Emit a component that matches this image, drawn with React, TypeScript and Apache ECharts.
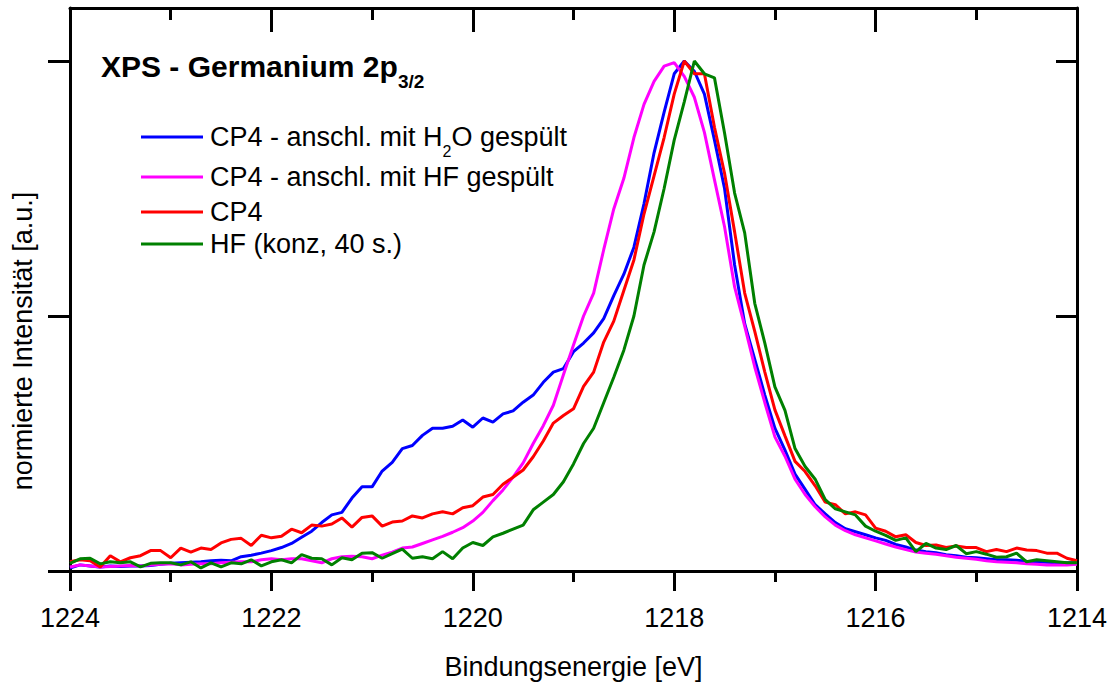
import React, { useEffect, useRef } from "react";
import * as echarts from "echarts";

// Binding energy [eV], 0.1 eV steps from 1224 down to 1214
const energies = [
  1224.0, 1223.9, 1223.8, 1223.7, 1223.6, 1223.5, 1223.4, 1223.3, 1223.2, 1223.1,
  1223.0, 1222.9, 1222.8, 1222.7, 1222.6, 1222.5, 1222.4, 1222.3, 1222.2, 1222.1,
  1222.0, 1221.9, 1221.8, 1221.7, 1221.6, 1221.5, 1221.4, 1221.3, 1221.2, 1221.1,
  1221.0, 1220.9, 1220.8, 1220.7, 1220.6, 1220.5, 1220.4, 1220.3, 1220.2, 1220.1,
  1220.0, 1219.9, 1219.8, 1219.7, 1219.6, 1219.5, 1219.4, 1219.3, 1219.2, 1219.1,
  1219.0, 1218.9, 1218.8, 1218.7, 1218.6, 1218.5, 1218.4, 1218.3, 1218.2, 1218.1,
  1218.0, 1217.9, 1217.8, 1217.7, 1217.6, 1217.5, 1217.4, 1217.3, 1217.2, 1217.1,
  1217.0, 1216.9, 1216.8, 1216.7, 1216.6, 1216.5, 1216.4, 1216.3, 1216.2, 1216.1,
  1216.0, 1215.9, 1215.8, 1215.7, 1215.6, 1215.5, 1215.4, 1215.3, 1215.2, 1215.1,
  1215.0, 1214.9, 1214.8, 1214.7, 1214.6, 1214.5, 1214.4, 1214.3, 1214.2, 1214.1,
  1214.0,
];

// CP4 - anschl. mit H2O gespült
const cp4H2O = [
  0.006, 0.012, 0.010, 0.008, 0.010, 0.009, 0.010, 0.010, 0.011, 0.013,
  0.015, 0.016, 0.017, 0.018, 0.020, 0.021, 0.020, 0.028, 0.031, 0.035,
  0.040, 0.046, 0.054, 0.066, 0.078, 0.095, 0.110, 0.115, 0.143, 0.165,
  0.165, 0.196, 0.213, 0.240, 0.246, 0.266, 0.280, 0.280, 0.284, 0.296,
  0.282, 0.300, 0.292, 0.308, 0.314, 0.331, 0.345, 0.370, 0.390, 0.397,
  0.430, 0.447, 0.467, 0.495, 0.540, 0.582, 0.635, 0.720, 0.820, 0.900,
  0.975, 1.000, 0.980, 0.935, 0.845, 0.750, 0.600, 0.485, 0.415, 0.345,
  0.280, 0.237, 0.190, 0.160, 0.130, 0.112, 0.095, 0.083, 0.077, 0.071,
  0.065, 0.060, 0.052, 0.047, 0.041, 0.038, 0.036, 0.032, 0.030, 0.027,
  0.026, 0.024, 0.022, 0.022, 0.021, 0.019, 0.018, 0.017, 0.016, 0.016,
  0.016,
];

// CP4 - anschl. mit HF gespült
const cp4HF = [
  0.008, 0.012, 0.010, 0.008, 0.009, 0.010, 0.011, 0.010, 0.012, 0.013,
  0.014, 0.012, 0.013, 0.014, 0.014, 0.016, 0.017, 0.018, 0.018, 0.022,
  0.024, 0.022, 0.024, 0.024, 0.020, 0.016, 0.024, 0.028, 0.029, 0.028,
  0.024, 0.031, 0.037, 0.045, 0.047, 0.054, 0.061, 0.068, 0.076, 0.085,
  0.098, 0.115, 0.138, 0.159, 0.184, 0.212, 0.250, 0.285, 0.325, 0.385,
  0.443, 0.500, 0.545, 0.630, 0.710, 0.770, 0.850, 0.915, 0.960, 0.990,
  0.997, 0.970, 0.929, 0.860, 0.767, 0.675, 0.557, 0.480, 0.400, 0.330,
  0.263, 0.225, 0.180, 0.150, 0.126, 0.106, 0.090, 0.079, 0.071, 0.065,
  0.059, 0.053, 0.047, 0.042, 0.037, 0.035, 0.033, 0.030, 0.027, 0.025,
  0.023, 0.020, 0.018, 0.017, 0.016, 0.014, 0.013, 0.012, 0.012, 0.012,
  0.013,
];

// CP4
const cp4 = [
  0.018, 0.022, 0.020, 0.008, 0.030, 0.018, 0.026, 0.030, 0.040, 0.040,
  0.026, 0.045, 0.037, 0.045, 0.042, 0.055, 0.062, 0.064, 0.050, 0.070,
  0.065, 0.068, 0.082, 0.075, 0.090, 0.088, 0.092, 0.104, 0.086, 0.105,
  0.108, 0.088, 0.096, 0.098, 0.108, 0.104, 0.112, 0.116, 0.112, 0.124,
  0.128, 0.145, 0.150, 0.170, 0.184, 0.198, 0.224, 0.255, 0.290, 0.305,
  0.318, 0.362, 0.390, 0.449, 0.490, 0.550, 0.610, 0.700, 0.775, 0.850,
  0.935, 1.000, 0.975, 0.975, 0.870, 0.780, 0.665, 0.545, 0.470, 0.390,
  0.316, 0.265, 0.215, 0.195, 0.167, 0.135, 0.130, 0.112, 0.116, 0.110,
  0.084, 0.078, 0.067, 0.071, 0.056, 0.050, 0.051, 0.046, 0.049, 0.046,
  0.046, 0.038, 0.042, 0.038, 0.045, 0.041, 0.040, 0.035, 0.035, 0.025,
  0.020,
];

// HF (konz, 40 s.)
const hfConc = [
  0.015, 0.024, 0.025, 0.014, 0.018, 0.016, 0.018, 0.008, 0.015, 0.016,
  0.016, 0.012, 0.018, 0.006, 0.016, 0.008, 0.016, 0.014, 0.022, 0.010,
  0.018, 0.022, 0.016, 0.032, 0.025, 0.024, 0.012, 0.026, 0.022, 0.035,
  0.036, 0.025, 0.034, 0.043, 0.025, 0.028, 0.024, 0.038, 0.024, 0.045,
  0.056, 0.050, 0.067, 0.074, 0.082, 0.090, 0.120, 0.135, 0.150, 0.175,
  0.210, 0.250, 0.280, 0.330, 0.380, 0.433, 0.500, 0.600, 0.665, 0.750,
  0.845, 0.920, 1.000, 0.975, 0.967, 0.859, 0.741, 0.663, 0.525, 0.447,
  0.361, 0.315, 0.240, 0.205, 0.180, 0.140, 0.122, 0.116, 0.110, 0.088,
  0.078, 0.070, 0.060, 0.065, 0.038, 0.054, 0.045, 0.042, 0.050, 0.034,
  0.038, 0.033, 0.027, 0.028, 0.035, 0.018, 0.022, 0.020, 0.018, 0.016,
  0.016,
];

const seriesNames = [
  "CP4 - anschl. mit H2O gespült",
  "CP4 - anschl. mit HF gespült",
  "CP4",
  "HF (konz, 40 s.)",
];
const seriesColors = ["#0000ff", "#ff00ff", "#ff0000", "#008000"];
const seriesValues = [cp4H2O, cp4HF, cp4, hfConc];
const yTickValues = [0, 0.5, 1];

const FONT = "'Liberation Sans', Arial, Helvetica, sans-serif";

function buildOption() {
  const black = { color: "#000", width: 3 };
  const axisLine = { show: true, onZero: false, lineStyle: black };

  const series = seriesValues.map((vals, k) => ({
    name: seriesNames[k],
    type: "line",
    xAxisIndex: 0,
    yAxisIndex: 0,
    data: energies.map((e, i) => [e, vals[i]]),
    showSymbol: false,
    symbol: "none",
    lineStyle: { color: seriesColors[k], width: 3 },
    itemStyle: { color: seriesColors[k] },
    z: 2 + k,
  }));

  const legendRows = [137, 177, 212, 244];
  const legendGraphics: any[] = [];
  legendRows.forEach((cy, k) => {
    legendGraphics.push({
      type: "line",
      shape: { x1: 141, y1: cy, x2: 203, y2: cy },
      style: { stroke: seriesColors[k], lineWidth: 2.8 },
      silent: true,
    });
  });
  const txt = (text: string, x: number, y: number, size: number, bold = false) => ({
    type: "text",
    x,
    y,
    silent: true,
    style: {
      text,
      fontSize: size,
      fontFamily: FONT,
      fontWeight: bold ? "bold" : "normal",
      fill: "#000",
      align: "left",
      verticalAlign: "middle",
    },
  });
  legendGraphics.push(txt("CP4 - anschl. mit H", 210, legendRows[0], 27));
  legendGraphics.push(txt("2", 442.6, legendRows[0] + 14, 16));
  legendGraphics.push(txt("O gespült", 451.5, legendRows[0], 27));
  legendGraphics.push(txt("CP4 - anschl. mit HF gespült", 210, legendRows[1], 27));
  legendGraphics.push(txt("CP4", 210, legendRows[2], 27));
  legendGraphics.push(txt("HF (konz, 40 s.)", 210, legendRows[3], 27));

  const titleGraphics = [
    txt("XPS - Germanium 2p", 101, 66, 30, true),
    txt("3/2", 398, 81, 19, true),
  ];

  const yName = {
    type: "text",
    x: 23,
    y: 341,
    rotation: Math.PI / 2,
    silent: true,
    style: {
      text: "normierte Intensität [a.u.]",
      fontSize: 27,
      fontFamily: FONT,
      fill: "#000",
      align: "center",
      verticalAlign: "middle",
    },
  };

  return {
    animation: false,
    backgroundColor: "#fff",
    textStyle: { fontFamily: FONT },
    grid: { left: 70, right: 35, top: 8, bottom: 117, containLabel: false },
    xAxis: [
      {
        type: "value",
        position: "bottom",
        min: 1214,
        max: 1224,
        interval: 2,
        inverse: true,
        axisLine,
        axisTick: { show: true, inside: false, length: 20, lineStyle: black },
        minorTick: { show: true, splitNumber: 2, length: 11, lineStyle: black },
        splitLine: { show: false },
        minorSplitLine: { show: false },
        axisLabel: {
          show: true,
          margin: 33,
          fontSize: 27,
          color: "#000",
          fontFamily: FONT,
          showMinLabel: true,
          showMaxLabel: true,
          formatter: (v: number) => String(Math.round(v)),
        },
        name: "Bindungsenergie [eV]",
        nameLocation: "middle",
        nameGap: 82,
        nameTextStyle: { fontSize: 27, color: "#000", fontFamily: FONT },
      },
      {
        type: "value",
        position: "top",
        min: 1214,
        max: 1224,
        interval: 2,
        inverse: true,
        axisLine,
        axisTick: { show: true, inside: true, length: 24, lineStyle: black },
        minorTick: { show: true, splitNumber: 2, length: 12, lineStyle: black },
        splitLine: { show: false },
        minorSplitLine: { show: false },
        axisLabel: { show: false },
      },
    ],
    yAxis: [
      {
        type: "value",
        position: "left",
        min: 0,
        max: 1.104,
        interval: 0.5,
        axisLine,
        axisTick: { show: true, inside: false, length: 22, lineStyle: black, customValues: yTickValues },
        axisLabel: { show: false },
        splitLine: { show: false },
      },
      {
        type: "value",
        position: "right",
        min: 0,
        max: 1.104,
        interval: 0.5,
        axisLine,
        axisTick: { show: true, inside: true, length: 21, lineStyle: black, customValues: yTickValues },
        axisLabel: { show: false },
        splitLine: { show: false },
      },
    ],
    series,
    graphic: [...titleGraphics, ...legendGraphics, yName],
  };
}

export default function App() {
  const ref = useRef<HTMLDivElement>(null);
  useEffect(() => {
    document.body.style.margin = "0";
    const chart = echarts.init(ref.current as HTMLDivElement, null, { renderer: "svg" });
    chart.setOption(buildOption() as any);
    return () => chart.dispose();
  }, []);
  return <div ref={ref} style={{ width: 1112, height: 688 }} />;
}
